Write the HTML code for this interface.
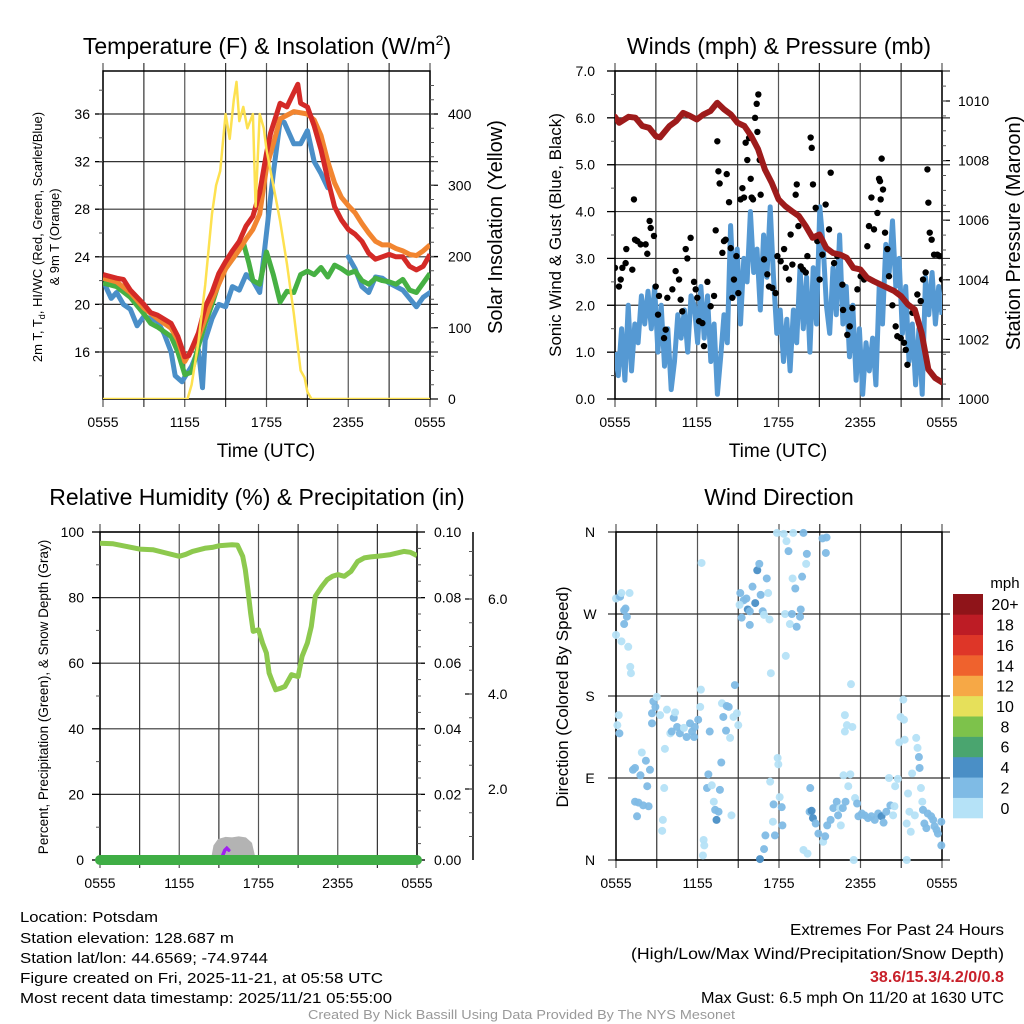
<!DOCTYPE html>
<html><head><meta charset="utf-8"><style>
html,body{margin:0;padding:0;background:#fff}
svg{display:block;font-family:"Liberation Sans",sans-serif}
</style></head><body>
<svg id="root" width="1024" height="1024" viewBox="0 0 1024 1024" xmlns="http://www.w3.org/2000/svg">
<g id="static">
<text x="267" y="54" font-size="23" text-anchor="middle">Temperature (F) &amp; Insolation (W/m<tspan dy="-9" font-size="14">2</tspan><tspan dy="9">)</tspan></text>
<text x="779" y="54" font-size="23" text-anchor="middle">Winds (mph) &amp; Pressure (mb)</text>
<text x="257" y="505" font-size="23" text-anchor="middle">Relative Humidity (%) &amp; Precipitation (in)</text>
<text x="779" y="505" font-size="23" text-anchor="middle">Wind Direction</text>
<text x="266" y="457" font-size="19" text-anchor="middle">Time (UTC)</text>
<text x="778" y="457" font-size="19" text-anchor="middle">Time (UTC)</text>
<text transform="translate(42,237) rotate(-90)" font-size="13" text-anchor="middle">2m T, T<tspan dy="3" font-size="9">d</tspan><tspan dy="-3">, HI/WC (Red, Green, Scarlet/Blue)</tspan></text>
<text transform="translate(59,237) rotate(-90)" font-size="13" text-anchor="middle">&amp; 9m T (Orange)</text>
<text transform="translate(502,227) rotate(-90)" font-size="20" text-anchor="middle">Solar Insolation (Yellow)</text>
<text transform="translate(561,235) rotate(-90)" font-size="17" text-anchor="middle">Sonic Wind &amp; Gust (Blue, Black)</text>
<text transform="translate(1020,233) rotate(-90)" font-size="20" text-anchor="middle">Station Pressure (Maroon)</text>
<text transform="translate(48,697) rotate(-90)" font-size="13.5" text-anchor="middle">Percent, Precipitation (Green), &amp; Snow Depth (Gray)</text>
<text transform="translate(568,697) rotate(-90)" font-size="17" text-anchor="middle">Direction (Colored By Speed)</text>
<text x="20" y="922" font-size="14.5" textLength="138" lengthAdjust="spacingAndGlyphs">Location: Potsdam</text>
<text x="20" y="943" font-size="14.5" textLength="214" lengthAdjust="spacingAndGlyphs">Station elevation: 128.687 m</text>
<text x="20" y="963" font-size="14.5" textLength="248" lengthAdjust="spacingAndGlyphs">Station lat/lon: 44.6569; -74.9744</text>
<text x="20" y="983" font-size="14.5" textLength="363" lengthAdjust="spacingAndGlyphs">Figure created on Fri, 2025-11-21, at 05:58 UTC</text>
<text x="20" y="1003" font-size="14.5" textLength="372" lengthAdjust="spacingAndGlyphs">Most recent data timestamp: 2025/11/21 05:55:00</text>
<text x="790" y="935" font-size="15.5" textLength="214" lengthAdjust="spacingAndGlyphs">Extremes For Past 24 Hours</text>
<text x="631" y="959" font-size="15.5" textLength="373" lengthAdjust="spacingAndGlyphs">(High/Low/Max Wind/Precipitation/Snow Depth)</text>
<text x="870" y="982" font-size="15.5" font-weight="bold" fill="#c8202a" textLength="134" lengthAdjust="spacingAndGlyphs">38.6/15.3/4.2/0/0.8</text>
<text x="701" y="1003" font-size="15.5" textLength="303" lengthAdjust="spacingAndGlyphs">Max Gust: 6.5 mph On 11/20 at 1630 UTC</text>
<text x="308" y="1019" font-size="12.5" fill="#999" textLength="427" lengthAdjust="spacingAndGlyphs">Created By Nick Bassill Using Data Provided By The NYS Mesonet</text>
</g>
</svg>
<script>
// ---------- data ----------
const xTickLabels=["0555","1155","1755","2355","0555"];
const tempT=[0,1,1.5,2,3,3.5,4,5,5.5,6,6.3,7,7.5,8,8.5,9,9.5,10,10.5,11,11.5,12,12.3,13,13.5,14,14.3,14.5,15,15.5,16,16.5,17,17.5,18,18.5,19,19.5,20,20.5,21,21.5,22,22.5,23,23.5,24];
const airTemp=[22.5,22.2,22.1,21.2,20.0,19.3,19.1,18.4,17.3,15.6,15.7,17.6,19.8,21.0,22.6,23.6,24.5,25.3,26.6,27.4,29.4,32.7,34.4,36.9,36.6,37.8,38.5,36.9,36.6,35.0,33.0,30.5,28.2,27.1,26.3,25.9,25.3,24.3,23.8,24.0,24.2,24.0,24.0,23.2,22.9,23.2,24.2];
const t9T=[0,1,2,3,4,5,5.5,6,7,8,9,10,10.5,11,11.5,12,12.5,13,14,15,15.5,16,16.5,17,17.5,18,18.5,19,19.5,20,20.5,21,21.5,22,22.5,23,23.5,24];
const temp9m=[22.2,21.9,21.0,19.7,18.8,18.0,17.0,15.2,17.2,20.4,23.0,24.6,25.5,26.3,27.6,31.5,33.5,35.6,36.2,36.0,35.5,34.2,32.0,30.2,29.0,28.3,27.7,26.8,26.0,25.3,25.0,25.0,24.7,24.5,24.2,24.1,24.5,25.0];
const dewT=[0,1,2,3,3.5,4,5,5.5,6,6.5,7,7.5,8,8.5,9,9.5,10,10.3,10.7,11,11.5,12,12.5,13,13.5,14,14.5,15,15.5,16,16.5,17,17.5,18,18.5,19,19.5,20,20.5,21,21.5,22,22.5,23,23.5,24];
const dewPoint=[21.8,21.5,20.6,19.2,18.4,18.1,17.3,16.0,14.1,14.3,16.5,18.4,20.0,21.8,23.0,23.8,24.6,25.2,23.5,22.0,21.7,24.4,22.5,20.2,21.1,21.0,22.5,22.8,22.5,23.1,22.3,23.3,23.0,22.6,22.8,22.0,21.7,22.2,22.0,21.9,21.7,22.1,21.2,21.0,21.8,22.6];
const chillT=[0.2,0.6,1,1.5,2,2.5,3,3.5,4,4.5,5,5.3,5.8,6,6.5,7,7.3,7.5,8,8.5,9,9.5,10,10.5,11,11.5,12,12.5,13,13.3,14,14.5,15,15.5,16,16.5,16.8,17.9,18,18.5,19,19.5,20,20.5,21,22,22.5,23,23.5,24];
const windChill=[21.5,20.5,21.0,20.0,19.6,18.2,19.0,18.8,18.6,17.5,16.0,14.0,13.5,13.9,14.8,16.2,13.0,17.0,18.8,20.0,19.8,21.5,21.2,22.5,22.0,21.0,26.0,31.0,35.4,35.3,33.5,33.5,34.6,32.0,31.0,29.8,null,null,24.0,23.0,21.5,21.0,22.3,22.2,21.8,21.2,20.5,19.8,20.6,21.0];
const solarT=[0,6.2,6.5,7,7.5,8,8.3,8.6,9,9.3,9.6,9.8,10,10.3,10.6,11,11.2,11.5,11.8,12,12.5,13,13.5,14,14.5,14.8,15,15.3,24];
const solar=[0,0,20,80,160,260,300,320,400,365,420,445,390,410,380,400,270,400,380,350,300,250,190,120,40,30,10,0,0];
const sonicWind=[1.0,0.5,1.5,0.4,2.0,0.6,1.6,1.2,2.2,1.6,2.3,1.5,2.4,1.0,2.0,0.7,1.5,0.2,0.8,1.8,1.3,1.9,1.0,2.2,2.0,1.2,2.4,1.3,2.2,0.8,1.6,0.1,0.9,1.8,1.2,3.7,2.2,3.2,1.6,3.0,2.5,4.0,2.7,3.2,1.9,3.5,2.6,4.1,2.6,1.4,1.9,0.8,1.7,0.6,1.9,1.2,2.8,1.5,2.6,1.0,2.8,1.6,4.1,3.3,2.0,1.4,2.8,1.8,3.5,1.6,2.4,0.9,2.0,0.4,1.5,0.1,1.2,0.6,1.3,0.3,2.4,1.6,3.3,2.7,3.8,2.4,3.0,1.4,2.4,0.8,1.6,0.3,1.5,0.1,2.6,1.8,2.7,1.6,2.4,1.8];
const gustT=[0,0.29,0.54,0.42,0.78,0.83,1.27,1.39,1.47,1.64,1.88,2.25,2.37,2.54,2.62,2.86,2.99,3.16,3.23,3.6,3.72,3.84,4.21,4.45,4.7,4.82,4.94,5.19,5.31,5.55,5.8,5.92,6.04,6.17,6.41,6.53,6.78,7.02,7.27,7.39,7.51,7.59,7.68,7.88,8.0,8.12,8.2,8.37,8.49,8.61,8.73,8.91,9.05,9.22,9.35,9.47,9.59,9.71,9.84,9.96,10.03,10.13,10.28,10.4,10.52,10.45,10.62,10.69,10.94,11.18,11.3,11.55,11.79,11.92,12.16,12.41,12.53,12.77,12.89,13.02,13.26,13.34,13.46,13.63,13.8,14.0,14.12,14.36,14.44,14.53,14.73,14.85,15.02,15.22,15.46,15.71,15.83,16.08,16.32,16.69,16.74,17.05,17.23,17.42,17.79,18.03,18.28,18.52,18.64,18.82,19.01,19.26,19.38,19.45,19.57,19.67,19.5,19.82,19.99,20.11,20.36,20.6,20.72,20.97,21.21,21.34,21.46,21.83,22.19,22.44,22.61,22.8,22.93,23.0,23.1,23.24,23.42,23.66,23.83,24.0];
const gust=[2.8,2.4,2.8,2.55,2.9,3.2,2.76,4.26,3.4,3.37,3.3,3.3,3.1,3.8,3.65,3.48,2.4,1.8,2.2,1.3,1.48,2.16,2.34,2.73,2.55,2.12,1.87,3.2,3.0,3.44,2.5,2.34,2.16,1.66,1.62,1.13,2.5,1.98,2.2,3.6,5.5,4.86,4.6,3.12,3.37,3.4,4.8,4.2,3.22,2.16,2.55,3.05,2.26,4.26,4.5,4.3,5.47,5.1,5.57,4.7,4.3,4.26,6.0,6.3,6.5,5.7,5.1,4.36,2.98,2.66,2.4,2.37,2.26,3.05,2.94,3.2,2.8,2.55,3.51,2.87,4.36,4.58,3.69,2.83,2.76,2.7,3.05,5.58,5.36,4.58,4.08,3.37,2.55,3.08,4.15,3.62,4.83,2.9,3.05,2.44,1.9,1.37,1.55,1.94,2.34,2.62,2.55,3.26,3.69,4.3,3.62,3.97,4.7,4.65,5.13,4.47,4.26,3.55,3.2,2.62,2.0,1.55,1.34,1.3,1.2,1.05,0.73,1.84,2.23,2.09,2.55,2.7,4.9,4.19,3.55,3.4,3.08,3.08,3.05,2.55];
const presT=[0,0.3,1,1.5,2,2.5,3,3.3,4,4.5,5,5.5,6,6.5,7,7.5,8,8.5,9,9.5,10,10.5,11,11.5,12,12.5,13,13.5,14,14.5,15,15.5,16,16.5,17,17.5,18,18.5,19,19.5,20,20.5,21,21.5,22,22.5,23,23.5,24];
const pressure=[1009.47,1009.27,1009.47,1009.44,1009.16,1009.1,1008.82,1008.78,1009.16,1009.33,1009.6,1009.5,1009.38,1009.55,1009.66,1009.94,1009.72,1009.55,1009.27,1009.16,1008.82,1008.38,1007.7,1007.26,1006.7,1006.47,1006.3,1006.14,1005.8,1005.41,1005.52,1005.07,1004.9,1004.85,1004.74,1004.4,1004.35,1004.07,1003.95,1003.84,1003.73,1003.62,1003.45,1003.17,1003.0,1002.22,1000.99,1000.7,1000.56];
const rhT=[0,1,2,3,4,5,6,6.5,7,8,8.5,9,10,10.4,10.8,11,11.2,11.4,11.6,12,12.3,12.6,12.8,13,13.3,13.7,14,14.5,15,15.3,15.7,16,16.3,16.8,17.2,17.6,18,18.5,19,19.5,20,20.5,21,22,23,23.5,24];
const rh=[96.6,96.4,95.6,94.8,94.6,93.6,92.6,93.2,94.1,95.1,95.3,95.8,96.1,96.0,92.6,88.5,82.4,75.3,69.7,70.2,66.2,63.1,57.0,54.9,51.9,52.4,52.9,56.5,55.9,62.1,66.2,71.2,80.4,83.4,85.5,86.5,87.0,86.5,88.0,91.0,92.1,92.4,92.6,93.1,94.1,93.8,92.8];
const precipT=[0,24];
const precip=[0,0];
const snowT=[8.5,8.7,9.0,9.5,10.0,10.5,11.0,11.4,11.7];
const snowDepth=[0.5,0.8,0.92,0.96,0.95,0.97,0.95,0.85,0.5];
const markT=[9.3,9.45,9.6,9.75];
const markV=[1.5,3.0,3.6,3.0];
const dirT=[0,0.3,1.0,0.4,0.7,0.6,0.8,0.6,0,0.4,0.9,1.05,1.1,0.2,0.1,0.25,1.25,1.4,1.8,2.2,1.9,2.5,2.3,1.4,1.65,2.0,2.4,1.55,2.75,3.0,2.9,2.65,2.65,3.25,3.75,3.6,3.55,3.45,3.4,4.25,4.35,4.0,4.5,4.1,4.7,5.0,5.2,5.45,5.6,5.8,5.75,6.05,6.2,6.25,6.3,6.7,6.8,6.9,7.05,7.2,7.3,7.4,7.55,7.65,7.75,7.8,7.9,8.15,8.3,8.1,8.4,8.5,8.65,8.75,8.9,9.0,6.45,6.5,6.4,9.15,9.4,9.6,9.1,9.25,9.7,9.85,9.85,10.05,10.25,10.4,10.55,10.65,10.8,10.9,11.1,11.2,11.3,11.4,11.35,11.6,11.55,11.7,11.0,10.9,10.6,11.9,11.95,12.05,12.2,12.25,11.85,12.35,12.55,12.7,13.05,13.8,14.05,14.0,13.7,13.0,13.2,12.45,12.95,12.8,13.3,13.55,13.6,12.5,13.8,14.1,14.3,14.25,14.4,14.5,14.7,14.9,15.25,15.4,15.55,15.8,16.0,16.25,16.5,16.55,16.35,16.7,16.9,17.1,16.75,17.25,16.85,17.0,17.4,16.85,17.3,17.6,17.75,17.85,18.1,18.3,18.55,18.8,19.05,19.3,19.55,19.7,19.9,20.2,20.5,20.4,20.1,20.55,20.75,20.85,20.95,21.15,21.2,21.25,21.4,21.4,21.5,21.6,21.7,21.8,22.0,22.1,22.2,22.3,22.35,22.45,22.55,22.6,22.7,22.85,22.95,23.2,23.35,23.45,23.6,23.7,23.95,23.95,17.5,15.2,15.5,15.45];
const dirDeg=[287,289,293,293,276,274,267,259,247,240,234,212,205,159,148,139,99,101,93,109,118,99,81,64,63,60,59,48,174,179,168,161,150,159,165,122,79,44,32,156,162,139,146,141,139,145,135,150,141,146,135,154,168,187,326,79,94,141,82,64,55,44,53,77,107,172,157,169,168,142,134,49,157,192,161,148,22,16,5,293,285,287,280,266,275,273,258,300,282,318,325,291,273,269,309,293,264,205,86,61,42,27,27,12,1,112,105,69,58,38,359,358,350,339,359,359,336,325,311,309,298,270,270,259,256,267,275,224,11,7,79,53,54,46,40,29,20,26,38,44,57,64,57,38,49,57,64,81,93,94,141,148,146,159,193,68,62,48,51,49,46,48,44,51,48,41,53,60,59,49,90,81,89,129,157,176,154,132,40,0,73,53,31,95,49,134,123,113,101,79,64,55,40,35,51,48,44,37,33,29,42,16,0,353,354,337];
const dirSpeed=[1,3,1,1,3,3,3,3,1,1,1,1,1,1,1,3,3,3,3,3,1,3,3,3,3,3,3,3,3,1,3,3,3,1,1,1,1,1,1,3,1,1,3,3,3,1,3,3,3,3,3,3,1,1,1,3,3,3,1,1,3,5,3,3,3,1,3,3,3,3,1,1,1,3,1,1,1,1,1,3,3,3,1,3,5,3,3,3,5,5,3,3,3,1,3,1,1,1,1,3,1,3,3,3,5,1,1,1,3,3,1,1,1,3,1,3,3,1,3,1,3,1,3,1,3,3,3,1,1,1,3,3,5,5,3,3,1,3,3,3,3,3,1,1,3,3,3,1,1,1,1,1,1,1,1,1,3,3,3,3,3,3,3,3,5,3,3,3,1,1,1,1,1,1,1,1,1,1,1,1,1,1,1,1,1,1,1,3,3,1,1,3,3,3,3,3,3,3,3,3,3,3,1,3,3,3];
const speedBins=["0","2","4","6","8","10","12","14","16","18","20+"];
const binColors=["#b5e2f7","#7fbbe5","#4a8fc6","#4aa56f","#7dc24b","#e6e05a","#f6a846","#ef622d","#de3628","#bd1c25","#8f1419"];

// ---------- drawing ----------
const NS="http://www.w3.org/2000/svg";
const root=document.getElementById('root');
function mk(tag,attrs,parent){const e=document.createElementNS(NS,tag);for(const k in attrs)e.setAttribute(k,attrs[k]);(parent||root).appendChild(e);return e;}
function lin(d0,d1,r0,r1){return v=>r0+(v-d0)/(d1-d0)*(r1-r0);}
function pathFrom(xs,ys,fx,fy){let d="",pen=false;for(let i=0;i<xs.length;i++){if(ys[i]===null){pen=false;continue;}d+=(pen?"L":"M")+fx(xs[i]).toFixed(1)+","+fy(ys[i]).toFixed(1);pen=true;}return d;}

function panelFrame(name,x0,x1,y0,y1,hVals,fy,clipId){
  const g=mk('g',{});
  
  
  for(let i=0;i<=8;i++){const x=x0+(x1-x0)*i/8;const l=mk('line',{x1:x,x2:x,y1:y0-8,y2:y1+8,stroke:i%2?"#333":"#555","stroke-width":1.2},g);
    
    }
  hVals.forEach(v=>{const y=fy(v);const l=mk('line',{x1:x0-8,x2:x1+8,y1:y,y2:y,stroke:"#333","stroke-width":1.2},g);
    
    });
  const b=mk('rect',{x:x0,y:y0,width:x1-x0,height:y1-y0,fill:"none",stroke:"#000","stroke-width":1.5},g);
  
  
  const cp=mk('clipPath',{id:clipId});mk('rect',{x:x0,y:y0,width:x1-x0,height:y1-y0},cp);
  xTickLabels.forEach((s,i)=>{const t=mk('text',{x:x0+(x1-x0)*i/4,y:y1+28,"font-size":14,"text-anchor":"middle"});t.textContent=s;
    
    });
}
function yTicks(name,vals,labels,fy,x,anchor,minorVals,tickX,dir){
  vals.forEach((v,i)=>{const t=mk('text',{x:x,y:fy(v)+5,"font-size":14,"text-anchor":anchor});t.textContent=labels[i];
    
    
    if(tickX!==undefined){const l=mk('line',{x1:tickX,x2:tickX+dir*8,y1:fy(v),y2:fy(v),stroke:"#000","stroke-width":1.2});
      
      }});
  (minorVals||[]).forEach(v=>{const l=mk('line',{x1:tickX,x2:tickX+dir*4,y1:fy(v),y2:fy(v),stroke:"#555","stroke-width":1});
    
    });
}
function range(a,b,s){const r=[];for(let v=a;v<=b+1e-9;v+=s)r.push(+v.toFixed(4));return r;}

// Panel 1: temperature
(function(){
  const x0=103,x1=430,y0=71,y1=399;
  const fx=lin(0,24,x0,x1), fy=lin(16,36,352,114), fs=lin(0,400,399,114);
  panelFrame('temp',x0,x1,y0,y1,[16,20,24,28,32,36],fy,'c1');
  yTicks('temp-y',[16,20,24,28,32,36],["16","20","24","28","32","36"],fy,90,'end',range(14,38,2),x0,-1);
  yTicks('solar-y',[0,100,200,300,400],["0","100","200","300","400"],fs,448,'start',range(20,440,20),x1,1);
  const g=mk('g',{"clip-path":"url(#c1)"});
  
  
  const p1=mk('path',{d:pathFrom(chillT,windChill,fx,fy),fill:"none",stroke:"#4a8fc8","stroke-width":5,"stroke-linejoin":"round","stroke-linecap":"round"},g);
  
  
  const p2=mk('path',{d:pathFrom(dewT,dewPoint,fx,fy),fill:"none",stroke:"#46b043","stroke-width":5,"stroke-linejoin":"round"},g);
  
  
  const p3=mk('path',{d:pathFrom(t9T,temp9m,fx,fy),fill:"none",stroke:"#f28530","stroke-width":5,"stroke-linejoin":"round"},g);
  
  
  const p4=mk('path',{d:pathFrom(tempT,airTemp,fx,fy),fill:"none",stroke:"#d42a27","stroke-width":5,"stroke-linejoin":"round"},g);
  
  
  const p5=mk('path',{d:pathFrom(solarT,solar,fx,fs),fill:"none",stroke:"#fde150","stroke-width":2.5,"stroke-linejoin":"round"},g);
  
  
})();

// Panel 2: winds
(function(){
  const x0=615,x1=942,y0=71,y1=399;
  const fx=lin(0,24,x0,x1), fy=lin(0,7,399,71), fp=lin(1000,1010,399,101);
  panelFrame('wind',x0,x1,y0,y1,[0,1,2,3,4,5,6,7],fy,'c2');
  yTicks('wind-y',[0,1,2,3,4,5,6,7],["0.0","1.0","2.0","3.0","4.0","5.0","6.0","7.0"],fy,595,'end',range(0.5,6.5,1),x0,-1);
  yTicks('pressure-y',[1000,1002,1004,1006,1008,1010],["1000","1002","1004","1006","1008","1010"],fp,958,'start',range(1000.5,1010.5,0.5),x1,1);
  const g=mk('g',{"clip-path":"url(#c2)"});
  
  
  const st=sonicWind.map((v,i)=>i*24/(sonicWind.length-1));
  const p=mk('path',{d:pathFrom(st,sonicWind,fx,fy),fill:"none",stroke:"#5599d3","stroke-width":5,"stroke-linejoin":"round"},g);
  
  
  gust.forEach((v,i)=>{const c=mk('circle',{cx:fx(gustT[i]),cy:fy(v),r:3.2,fill:"#000"},g);
    
    });
  const q=mk('path',{d:pathFrom(presT,pressure,fx,fp),fill:"none",stroke:"#9e1b1b","stroke-width":6,"stroke-linejoin":"round","stroke-linecap":"round"},g);
  
  
})();

// Panel 3: humidity
(function(){
  const x0=100,x1=417,y0=532,y1=860;
  const fx=lin(0,24,x0,x1), fy=lin(0,100,860,532), fpr=lin(0,0.1,860,532), fsn=lin(2,6,789,599);
  panelFrame('rh',x0,x1,y0,y1,[0,20,40,60,80,100],fy,'c3');
  yTicks('rh-y',[0,20,40,60,80,100],["0","20","40","60","80","100"],fy,84,'end',range(10,90,20),x0,-1);
  yTicks('precip-y',[0,0.02,0.04,0.06,0.08,0.1],["0.00","0.02","0.04","0.06","0.08","0.10"],fpr,434,'start',range(0.005,0.095,0.005),x1,1);
  const ax=mk('line',{x1:473,x2:473,y1:532,y2:860,stroke:"#000","stroke-width":1.5});
  
  
  yTicks('snow-y',[2,4,6],["2.0","4.0","6.0"],fsn,488,'start',range(1,7,0.5).filter(v=>fsn(v)>532&&fsn(v)<860),473,-1);
  const g=mk('g',{"clip-path":"url(#c3)"});
  
  
  let d=pathFrom(snowT,snowDepth,fx,fsn);d+="L"+fx(snowT[snowT.length-1])+","+y1+"L"+fx(snowT[0])+","+y1+"Z";
  const s=mk('path',{d:d,fill:"#b3b3b3",stroke:"#b3b3b3","stroke-width":3,"stroke-linejoin":"round"},g);
  
  
  const m=mk('path',{d:pathFrom(markT,markV,fx,fy),fill:"none",stroke:"#a020f0","stroke-width":3.5,"stroke-linecap":"round"},g);
  
  
  const r=mk('path',{d:pathFrom(rhT,rh,fx,fy),fill:"none",stroke:"#8dc94e","stroke-width":5,"stroke-linejoin":"round"},g);
  
  
  const pr=mk('path',{d:pathFrom(precipT,precip,fx,fpr),fill:"none",stroke:"#3fae45","stroke-width":10,"stroke-linecap":"round"});
  
  
})();

// Panel 4: wind direction
(function(){
  const x0=616,x1=942,y0=532,y1=860;
  const fx=lin(0,24,x0,x1), fy=lin(0,360,860,532);
  panelFrame('dir',x0,x1,y0,y1,[0,90,180,270,360],fy,'c4');
  yTicks('dir-y',[0,90,180,270,360],["N","E","S","W","N"],fy,590,'middle');
  const g=mk('g',{});
  
  
  dirDeg.forEach((v,i)=>{const bin=Math.min(10,Math.floor(dirSpeed[i]/2));
    const c=mk('circle',{cx:fx(dirT[i]),cy:fy(v),r:4,fill:binColors[bin],"fill-opacity":0.95},g);
    
    });
  const cb=mk('g',{});
  
  
  const h=(818-594)/speedBins.length;
  speedBins.forEach((s,i)=>{const y=818-(i+1)*h;
    const r=mk('rect',{x:953,y:y,width:30,height:h+0.3,fill:binColors[i]},cb);
    
    
    const t=mk('text',{x:1005,y:y+h/2+6,"font-size":16,"text-anchor":"middle"},cb);t.textContent=s;
    
    });
  const u=mk('text',{x:1005,y:588,"font-size":15,"text-anchor":"middle"},cb);u.textContent="mph";
  
  
})();
</script>
</body></html>
